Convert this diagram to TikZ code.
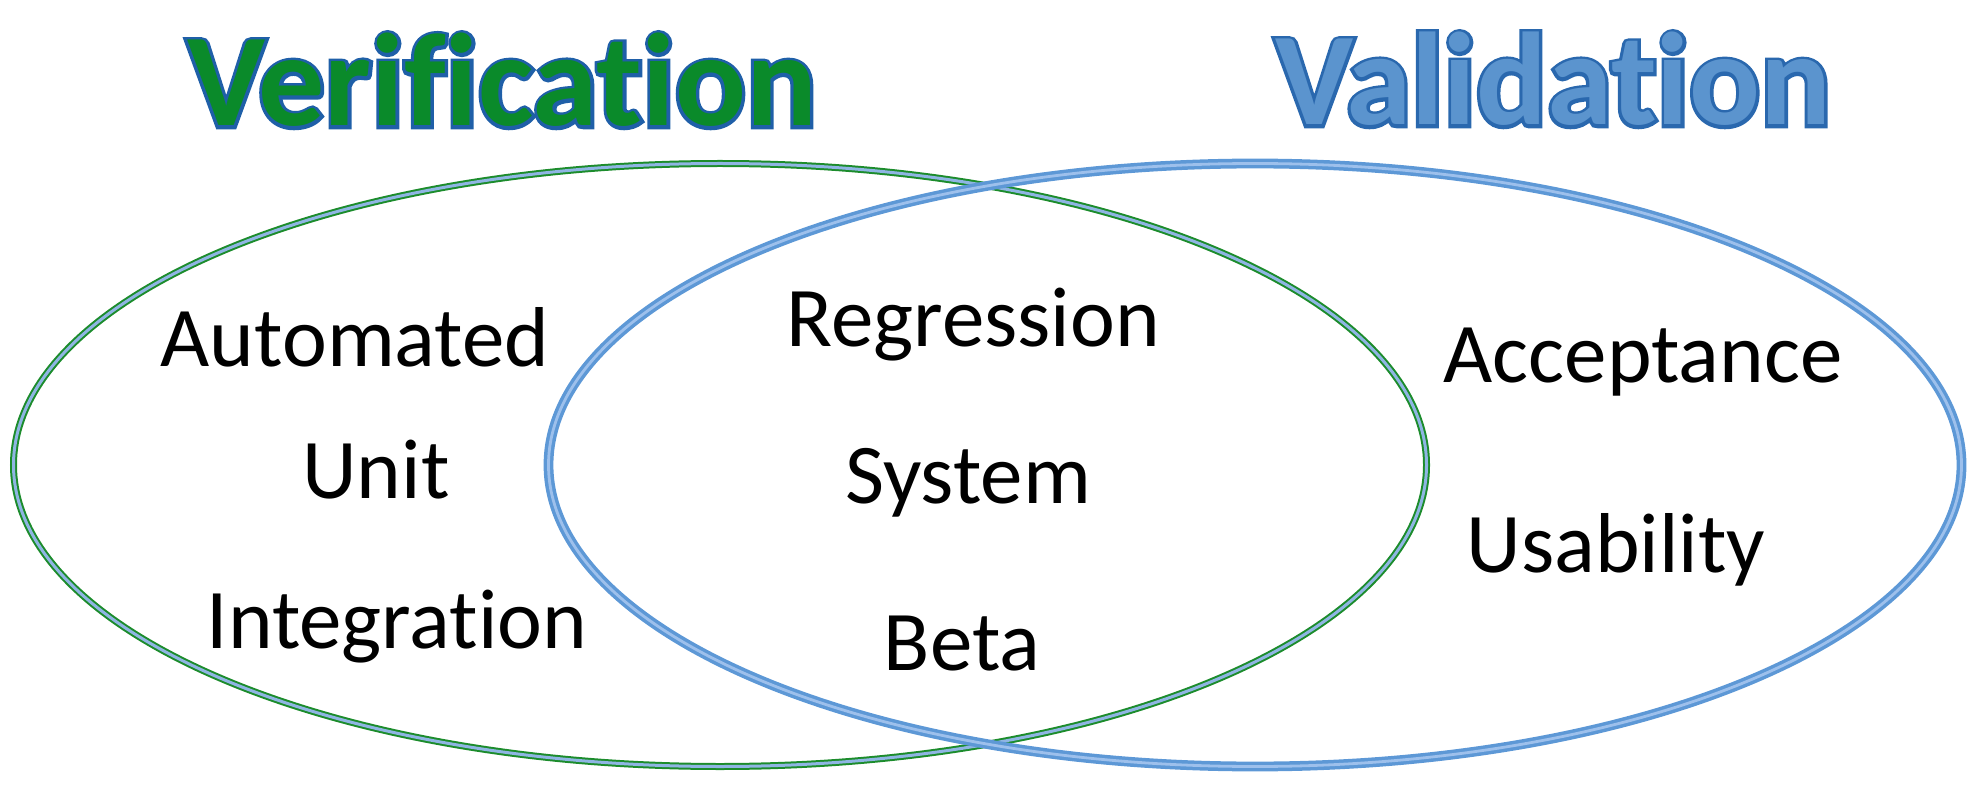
\documentclass[tikz,border=0pt]{standalone}
\usepackage{fontspec}
\setmainfont{Carlito}[Ligatures=NoCommon]
\newfontfamily\titlerim{Carlito}[Ligatures=NoCommon, BoldFeatures={FakeBold=5}]
\usepackage{tikz}
\usetikzlibrary{shapes.geometric,positioning}

\definecolor{vergreen}{HTML}{0A8A2A}
\definecolor{verline}{HTML}{1F5FA8}
\definecolor{valblue}{HTML}{5B94CE}
\definecolor{valline}{HTML}{2A68AE}
\definecolor{ringgreen}{HTML}{1C8C2C}
\definecolor{ringinner}{HTML}{8FB5E3}
\definecolor{ringblue}{HTML}{5D98D6}
\definecolor{ringlight}{HTML}{9DC0EC}

% outlined heading: a thick copy in the rim colour, the fill on top
\newcommand{\rimtext}[2]{\rlap{\textcolor{#1}{\titlerim\bfseries #2}}#2}

\begin{document}
\begin{tikzpicture}[x=0.5pt, y=-0.5pt,
        ring/.style={ellipse, inner sep=0pt, minimum width=706.5pt, minimum height=301.5pt},
        verring/.style={ring, draw=ringgreen, line width=1pt, double=ringinner, double distance=1.5pt},
        valring/.style={ring, draw=ringblue, line width=1.75pt, double=ringlight, double distance=1.4pt},
        title/.style={anchor=base, inner sep=0pt, font=\fontsize{66}{72}\selectfont\bfseries},
        term/.style={anchor=base, inner sep=0pt, text=black, font=\fontsize{42.5}{50}\selectfont}]
    \useasboundingbox (0,0) rectangle (1974,796);

    % the two sets
    \node (verif) [verring] at (720,465) {};
    \node (valid) [valring] at (1255,465) {};

    % headings
    \node (vertitle) [title, text=vergreen] at (502,126) {\rimtext{verline}{Verification}};
    \node (valtitle) [title, text=valblue] at (1553,125) {\rimtext{valline}{Validation}};

    % verification only
    \node (automated) [term] at (355,366) {Automated};
    \node (unit) [term] at (376,498) {Unit};
    \node (integration) [term] at (397,648) {Integration};

    % both
    \node (regression) [term] at (973,347) {Regression};
    \node (system) [term] at (968,503) {System};
    \node (beta) [term] at (962,670) {Beta};

    % validation only
    \node (acceptance) [term] at (1643,383) {Acceptance};
    \node (usability) [term] at (1616,572) {Usability};
\end{tikzpicture}
\end{document}
